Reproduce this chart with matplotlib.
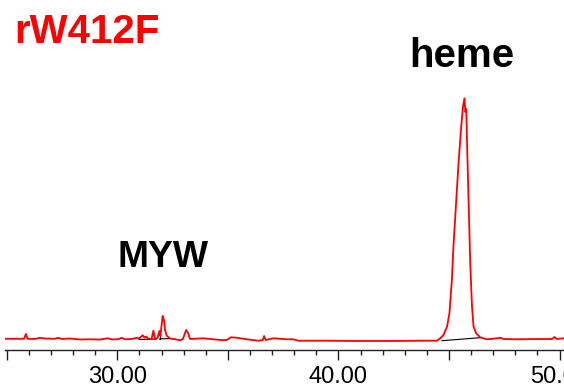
import matplotlib
matplotlib.use("Agg")
import matplotlib.pyplot as plt
from matplotlib.ticker import MultipleLocator, FuncFormatter

plt.rcParams['font.family'] = ['Liberation Sans', 'DejaVu Sans']

# HPLC trace of rW412F (retention time in min, absorbance in arbitrary units)
time_min = [24.92, 25.60, 25.78, 25.87, 25.94, 26.28, 26.50, 26.73, 27.18, 27.32,
            27.50, 27.86, 28.31, 28.76, 29.22, 29.58, 29.76, 30.03, 30.20, 30.35,
            30.66, 30.88, 30.98, 31.15, 31.23, 31.30, 31.39, 31.55, 31.63, 31.71,
            31.82, 31.90, 31.95, 32.05, 32.11, 32.16, 32.23, 32.38, 32.61, 32.84,
            32.97, 33.11, 33.20, 33.29, 33.89, 34.65, 34.95, 35.13, 35.40, 35.86,
            36.38, 36.58, 36.64, 36.71, 37.06, 37.67, 37.96, 38.19, 39.32, 40.83,
            42.34, 43.85, 44.45, 44.60, 44.75, 44.91, 45.02, 45.13, 45.20, 45.31,
            45.43, 45.54, 45.63, 45.70, 45.74, 45.78, 45.82, 45.88, 45.96, 46.04,
            46.11, 46.23, 46.41, 46.71, 47.17, 47.32, 47.47, 48.07, 49.13, 49.66,
            49.76, 49.88, 50.18]
signal = [1.7, 1.7, 1.7, 6.5, 1.7, 1.5, 2.7, 2.0, 1.7, 2.7,
          1.5, 2.0, 1.0, 1.2, 1.0, 2.2, 1.0, 1.3, 2.7, 1.2,
          1.5, 2.7, 2.0, 5.2, 3.0, 4.0, 2.0, 1.2, 9.8, 1.5,
          2.5, 9.5, 4.5, 24.5, 20.5, 10.5, 5.0, 2.0, 1.3, 0.2,
          1.5, 10.5, 7.5, 1.5, 2.2, 0.5, 0.5, 3.2, 2.8, 1.2,
          -0.2, 0.5, 4.5, 0.5, 2.2, 1.2, 1.2, -0.2, -0.2, -0.5,
          -0.5, -0.2, -0.2, 2.2, 5.5, 13.8, 27.2, 60.5, 93.8, 133.8,
          177.2, 210.5, 233.8, 242.2, 228.5, 231.5, 193.8, 143.8, 77.2, 33.8,
          13.8, 7.2, 3.2, 1.2, 2.2, 2.8, 1.5, 1.2, 1.5, 1.5,
          3.5, 1.5, 2.2]

# integration baselines drawn under the peaks
base_t = [[44.68, 46.41], [30.99, 31.76], [31.91, 31.91], [31.91, 32.38]]
base_s = [[-0.2, 2.8], [1.0, 1.5], [1.5, 9.5], [1.5, 2.0]]

fig = plt.figure(figsize=(5.64, 3.88), dpi=100)
ax = fig.add_axes([4.5 / 564, 38.5 / 388, 1 - 4.5 / 564, 1 - 38.5 / 388])

for bt, bs in zip(base_t, base_s):
    ax.plot(bt, bs, color='black', lw=0.8)
ax.plot(time_min, signal, color='red', lw=1.3)

ax.set_xlim(24.9, 50.2)
ax.set_ylim(-9, 340.5)

for side in ['left', 'right', 'top']:
    ax.spines[side].set_visible(False)
ax.spines['bottom'].set_linewidth(1.0)
ax.spines['bottom'].set_color('#222222')
ax.set_yticks([])

ax.xaxis.set_major_locator(MultipleLocator(5))
ax.xaxis.set_minor_locator(MultipleLocator(1))
ax.xaxis.set_major_formatter(FuncFormatter(lambda v, p: '%.2f' % v if round(v) % 10 == 0 else ''))
ax.tick_params(axis='x', which='major', length=7.2, width=1.0, color='#222222',
               labelsize=17, pad=4.5)
ax.tick_params(axis='x', which='minor', length=3.6, width=1.0, color='#222222')

fig.text(14 / 564, 1 - 43.3 / 388, 'rW412F', color='red', fontsize=29,
         fontweight='bold', va='baseline', ha='left')
fig.text(409 / 564, 1 - 66.7 / 388, 'heme', color='black', fontsize=29,
         fontweight='bold', va='baseline', ha='left')
fig.text(117.5 / 564, 1 - 266.7 / 388, 'MYW', color='black', fontsize=26.8,
         fontweight='bold', va='baseline', ha='left')

fig.savefig('out.png', dpi=100)
